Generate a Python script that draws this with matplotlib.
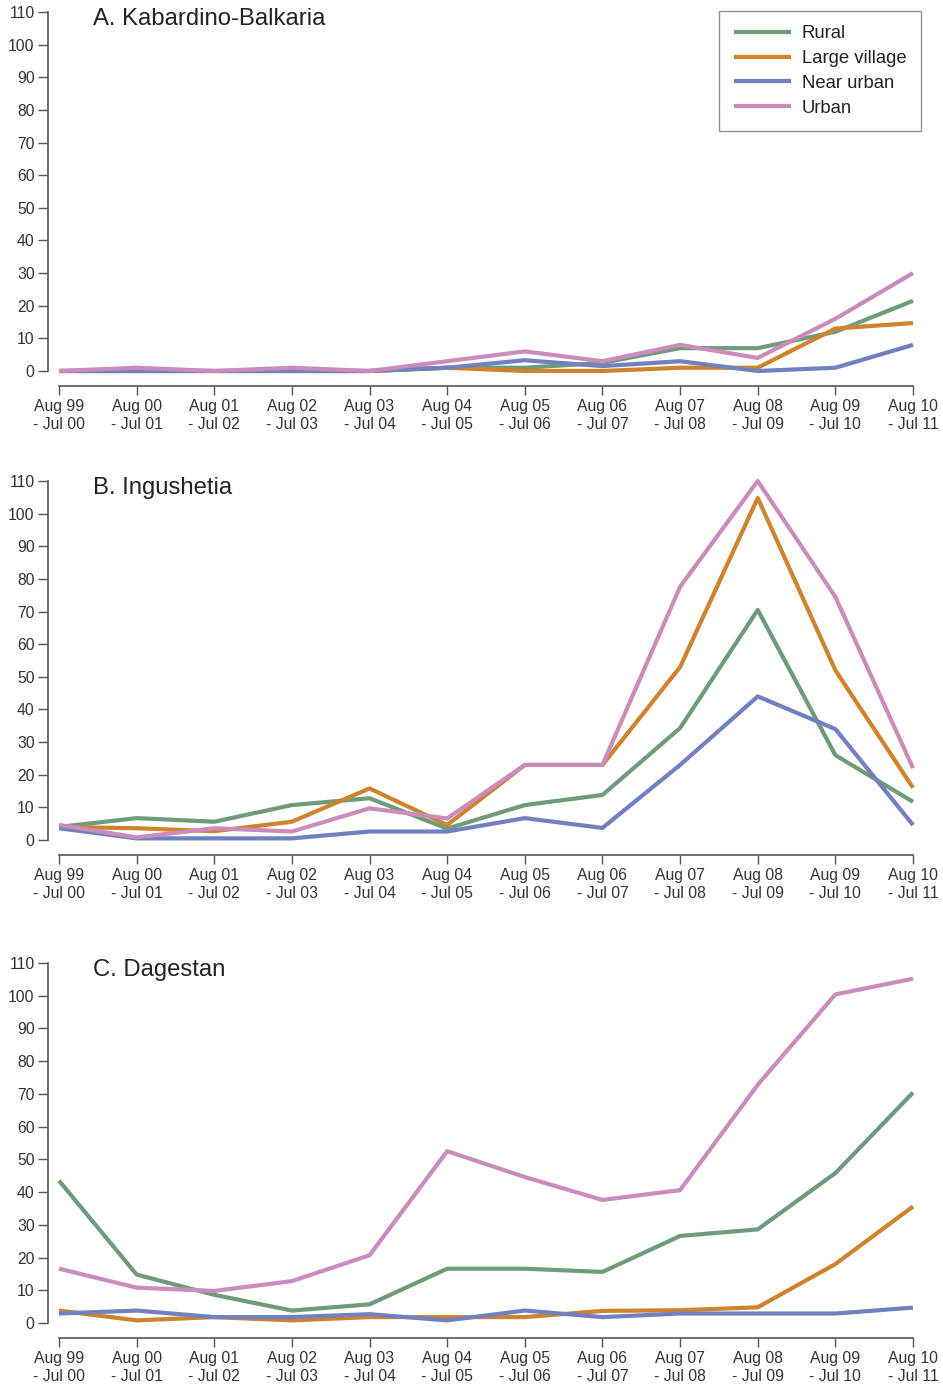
import numpy as np
import matplotlib
matplotlib.use('Agg')
import matplotlib.pyplot as plt

plt.rcParams.update({
    "font.family": ["Liberation Sans", "DejaVu Sans"],
})

periods = ['Aug 99\n- Jul 00', 'Aug 00\n- Jul 01', 'Aug 01\n- Jul 02', 'Aug 02\n- Jul 03',
           'Aug 03\n- Jul 04', 'Aug 04\n- Jul 05', 'Aug 05\n- Jul 06', 'Aug 06\n- Jul 07',
           'Aug 07\n- Jul 08', 'Aug 08\n- Jul 09', 'Aug 09\n- Jul 10', 'Aug 10\n- Jul 11']
groups = ['Rural', 'Large village', 'Near urban', 'Urban']
colors = ['#6e9c7a', '#cf832c', '#7080c0', '#cb8bbc']

# A. Kabardino-Balkaria
kb_rural = [0, 0, 0, 0, 0, 1, 1, 2.5, 7, 7, 12, 21.5]
kb_large = [0, 0, 0, 0, 0, 1, 0, 0, 1, 1, 13, 14.7]
kb_near = [0, 0, 0, 0, 0, 1, 3.3, 1.5, 3, 0, 1, 8]
kb_urban = [0, 1, 0, 1, 0, 3, 6, 3, 8, 4, 16, 30]

# B. Ingushetia
in_rural = [4, 6.7, 5.6, 10.7, 12.8, 3.5, 10.7, 13.8, 34.3, 70.5, 26, 11.7]
in_large = [4, 3.6, 2.7, 5.6, 15.8, 4.6, 23, 23, 53, 104.8, 52, 16]
in_near = [3.6, 0.5, 0.5, 0.5, 2.6, 2.6, 6.7, 3.7, 23, 44, 34, 4.6]
in_urban = [4.6, 0.8, 3.6, 2.6, 9.7, 6.6, 23, 23, 77.6, 110, 74.5, 22]

# C. Dagestan
dg_rural = [43.5, 14.8, 8.6, 3.8, 5.7, 16.6, 16.6, 15.6, 26.6, 28.6, 45.8, 70.4]
dg_large = [3.8, 0.8, 1.8, 0.8, 1.8, 1.8, 1.8, 3.7, 3.9, 4.8, 18, 35.6]
dg_near = [2.9, 3.8, 1.8, 1.8, 2.7, 0.8, 3.8, 1.8, 2.9, 2.9, 2.9, 4.7]
dg_urban = [16.6, 10.8, 9.8, 12.8, 20.7, 52.5, 44.6, 37.6, 40.6, 72.8, 100.4, 105.2]

panels = [
    ('A. Kabardino-Balkaria', [kb_rural, kb_large, kb_near, kb_urban]),
    ('B. Ingushetia', [in_rural, in_large, in_near, in_urban]),
    ('C. Dagestan', [dg_rural, dg_large, dg_near, dg_urban]),
]

W, H = 943, 1387
fig = plt.figure(figsize=(W / 100, H / 100), dpi=100)

# pixel rows of y=0 and y=110 for each panel
rows = [(371, 12), (840, 481), (1323, 963)]
x0_px, x1_px = 59, 913

x = np.arange(len(periods))
for i, (title, series) in enumerate(panels):
    y0, y1 = rows[i]
    ax = fig.add_axes([x0_px / W, (H - y0) / H, (x1_px - x0_px) / W, (y0 - y1) / H])
    for vals, lab, col in zip(series, groups, colors):
        ax.plot(x, vals, color=col, lw=3, label=lab, clip_on=False, solid_capstyle='butt')
    ax.set_xlim(0, len(periods) - 1)
    ax.set_ylim(0, 110)
    ax.set_yticks(np.arange(0, 111, 10))
    ax.set_xticks(x)
    ax.set_xticklabels(periods)
    for s in ['top', 'right']:
        ax.spines[s].set_visible(False)
    ax.spines['left'].set_position(('outward', 8))
    ax.spines['bottom'].set_position(('outward', 10.5))
    ax.spines['left'].set_bounds(0, 110)
    ax.spines['bottom'].set_bounds(0, len(periods) - 1)
    for s in ['left', 'bottom']:
        ax.spines[s].set_color('#555555')
        ax.spines[s].set_linewidth(1.2)
    ax.tick_params(axis='y', length=7, width=1, color='#555555', pad=2.5,
                   labelsize=11.3, labelcolor='#333333')
    ax.tick_params(axis='x', length=6.5, width=1, color='#555555', pad=3,
                   labelsize=11.3, labelcolor='#333333')
    for lbl in ax.get_xticklabels():
        lbl.set_linespacing(1.25)
    ax.patch.set_visible(False)
    fig.text(93 / W, 1 - (y1 - 4) / H, title, fontsize=17.2, color='#222222', va='top', ha='left')
    if i == 0:
        leg = ax.legend(loc='upper right', bbox_to_anchor=(921 / W, 1 - 11 / H),
                        bbox_transform=fig.transFigure, borderaxespad=0,
                        fontsize=13.3, frameon=True, fancybox=False,
                        handlelength=3.1, handletextpad=0.6, labelspacing=0.42,
                        borderpad=0.78)
        leg.get_frame().set_edgecolor('#777777')
        leg.get_frame().set_linewidth(1)
        for t in leg.get_texts():
            t.set_color('#222222')

fig.savefig('out.png', dpi=100)
